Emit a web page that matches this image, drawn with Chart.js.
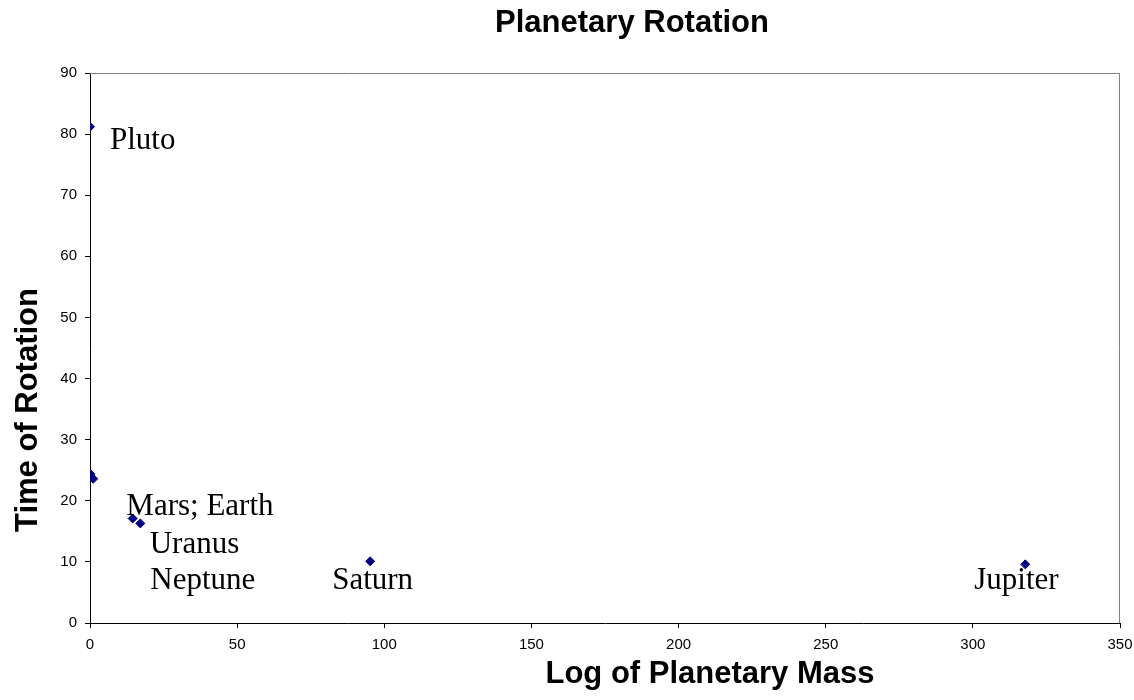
<!DOCTYPE html>
<html>
<head>
<meta charset="utf-8">
<script src="https://cdn.jsdelivr.net/npm/chart.js@4.4.1/dist/chart.umd.min.js"></script>
<style>
  html, body { margin: 0; padding: 0; background: #fff; }
  #wrap { width: 1134px; height: 700px; }
</style>
</head>
<body>
<div id="wrap"><canvas id="rotationChart"></canvas></div>
<script>
// planets, mass (x) and rotation time (y)
const planets = ['Pluto', 'Mars', 'Earth', 'Uranus', 'Neptune', 'Saturn', 'Jupiter'];
const mass = [0.002, 0.11, 1.1, 14.5, 17.1, 95.2, 317.8];
const rotation = [81.2, 24.4, 23.6, 17.1, 16.3, 10.1, 9.6];
const pointLabels = ['Pluto', 'Mars; Earth', '', 'Uranus', 'Neptune', 'Saturn', 'Jupiter'];
const xTicks = [0, 50, 100, 150, 200, 250, 300, 350];
const yTicks = [0, 10, 20, 30, 40, 50, 60, 70, 80, 90];

// where each label sits relative to its marker (px), dragged by hand in the original
const labelOffsets = [[20, 22], [36, 41], [0, 0], [17, 34], [10, 66], [-38, 28], [-51, 25]];

const points = mass.map((m, i) => ({ x: m, y: rotation[i] }));

// gray top/right frame, text labels and titles
const decorations = {
  id: 'decorations',
  afterDraw(chart) {
    const { ctx, chartArea: a, scales } = chart;
    ctx.save();
    ctx.strokeStyle = '#808080';
    ctx.lineWidth = 1;
    ctx.beginPath();
    ctx.moveTo(a.left, a.top + 0.5);
    ctx.lineTo(a.right - 0.5, a.top + 0.5);
    ctx.lineTo(a.right - 0.5, a.bottom);
    ctx.stroke();

    ctx.fillStyle = '#000';
    ctx.font = '31px "Liberation Serif", "Times New Roman", serif';
    ctx.textAlign = 'left';
    ctx.textBaseline = 'alphabetic';
    pointLabels.forEach((txt, i) => {
      if (!txt) return;
      const px = scales.x.getPixelForValue(mass[i]);
      const py = scales.y.getPixelForValue(rotation[i]);
      ctx.fillText(txt, px + labelOffsets[i][0], py + labelOffsets[i][1]);
    });

    ctx.font = 'bold 31px "Liberation Sans", Arial, sans-serif';
    ctx.textAlign = 'center';
    ctx.fillText('Planetary Rotation', 632, 32);
    ctx.fillText('Log of Planetary Mass', 710, 683);
    ctx.translate(37, 410);
    ctx.rotate(-Math.PI / 2);
    ctx.fillText('Time of Rotation', 0, 0);
    ctx.restore();
  }
};

const tickFont = { family: '"Liberation Sans", Arial, sans-serif', size: 15 };

new Chart(document.getElementById('rotationChart'), {
  type: 'scatter',
  data: {
    datasets: [{
      label: 'Rotation',
      data: points,
      pointStyle: 'rectRot',
      pointRadius: 4.5,
      pointBorderWidth: 1,
      backgroundColor: '#000080',
      borderColor: '#000080'
    }]
  },
  options: {
    responsive: true,
    maintainAspectRatio: false,
    animation: false,
    layout: { padding: { top: 73, right: 14, left: 0, bottom: 0 } },
    plugins: {
      legend: { display: false },
      tooltip: { enabled: false }
    },
    scales: {
      x: {
        type: 'linear',
        min: xTicks[0],
        max: xTicks[xTicks.length - 1],
        afterFit: (s) => { s.height = 77; s.paddingLeft = 0; s.paddingRight = 0; },
        afterBuildTicks: (s) => { s.ticks = xTicks.map(v => ({ value: v })); },
        grid: { drawOnChartArea: false, drawTicks: true, tickLength: 5, color: '#000' },
        border: { color: '#000', width: 1 },
        ticks: { color: '#000', font: tickFont, padding: 8, maxRotation: 0 }
      },
      y: {
        type: 'linear',
        min: yTicks[0],
        max: yTicks[yTicks.length - 1],
        afterFit: (s) => { s.width = 90; s.paddingTop = 0; s.paddingBottom = 0; },
        afterBuildTicks: (s) => { s.ticks = yTicks.map(v => ({ value: v })); },
        grid: { drawOnChartArea: false, drawTicks: true, tickLength: 5, color: '#000' },
        border: { color: '#000', width: 1 },
        ticks: { color: '#000', font: tickFont, padding: 8 }
      }
    }
  },
  plugins: [decorations]
});
</script>
</body>
</html>
